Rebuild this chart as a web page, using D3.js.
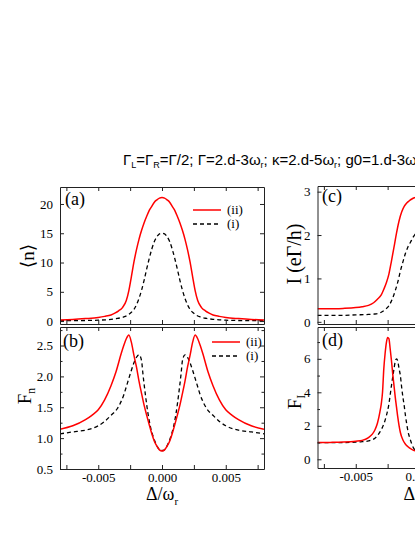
<!DOCTYPE html>
<html>
<head>
<meta charset="utf-8">
<script src="https://cdn.jsdelivr.net/npm/d3@7"></script>
<style>
  html, body { margin: 0; padding: 0; background: #fff; }
  svg { display: block; }
</style>
</head>
<body>
<div id="chart"></div>
<script>
// ---------------- DATA ----------------
// (a) <n> vs detuning
const aIIx = [-0.008,-0.007,-0.006,-0.005,-0.0045,-0.004,-0.0037,-0.0034,-0.0031,-0.0028,-0.0026,-0.0024,-0.0022,-0.002,-0.0018,-0.0016,-0.0014,-0.0012,-0.001,-0.0008,-0.0006,-0.0004,-0.0002,0,
              0.0002,0.0004,0.0006,0.0008,0.001,0.0012,0.0014,0.0016,0.0018,0.002,0.0022,0.0024,0.0026,0.0028,0.0031,0.0034,0.0037,0.004,0.0045,0.005,0.006,0.007,0.008];
const aIIy = [0.2,0.27,0.42,0.62,0.8,1.05,1.35,1.75,2.3,3.5,5.2,7.6,10.1,12.2,14.0,15.5,16.8,17.9,18.9,19.6,20.3,20.7,21.0,21.1,
              21.0,20.7,20.3,19.6,18.9,17.9,16.8,15.5,14.0,12.2,10.1,7.6,5.2,3.5,2.3,1.75,1.35,1.05,0.8,0.62,0.42,0.27,0.2];
const aIx  = [-0.008,-0.007,-0.006,-0.005,-0.004,-0.0035,-0.003,-0.0027,-0.0024,-0.0022,-0.002,-0.0018,-0.0016,-0.0014,-0.0012,-0.001,-0.0008,-0.0006,-0.0004,-0.0002,0,
              0.0002,0.0004,0.0006,0.0008,0.001,0.0012,0.0014,0.0016,0.0018,0.002,0.0022,0.0024,0.0027,0.003,0.0035,0.004,0.005,0.006,0.007,0.008];
const aIy  = [0.05,0.07,0.1,0.15,0.3,0.45,0.7,1.0,1.5,2.0,2.8,3.9,5.3,7.0,8.9,10.7,12.3,13.6,14.4,14.9,15.0,
              14.9,14.4,13.6,12.3,10.7,8.9,7.0,5.3,3.9,2.8,2.0,1.5,1.0,0.7,0.45,0.3,0.15,0.1,0.07,0.05];
// (b) F_n vs detuning
const bIIx = [-0.008,-0.007,-0.006,-0.0055,-0.005,-0.0045,-0.004,-0.0036,-0.0032,-0.003,-0.0028,-0.0026,-0.0024,-0.0022,-0.002,-0.0018,-0.0016,-0.0014,-0.0012,-0.001,-0.0008,-0.0006,-0.0004,-0.0002,0,
              0.0002,0.0004,0.0006,0.0008,0.001,0.0012,0.0014,0.0016,0.0018,0.002,0.0022,0.0024,0.0026,0.0028,0.003,0.0032,0.0036,0.004,0.0045,0.005,0.0055,0.006,0.007,0.008];
const bIIy = [1.145,1.2,1.3,1.37,1.46,1.62,1.85,2.08,2.37,2.5,2.61,2.67,2.55,2.34,2.15,1.92,1.72,1.53,1.37,1.215,1.07,0.95,0.87,0.81,0.79,
              0.81,0.87,0.95,1.07,1.215,1.37,1.53,1.72,1.92,2.15,2.34,2.55,2.67,2.61,2.5,2.37,2.08,1.85,1.62,1.46,1.37,1.3,1.2,1.145];
const bIx  = [-0.008,-0.007,-0.006,-0.005,-0.0045,-0.004,-0.0035,-0.003,-0.0027,-0.0024,-0.0022,-0.002,-0.0018,-0.0016,-0.0015,-0.0013,-0.0011,-0.0009,-0.0007,-0.0005,-0.0003,-0.0001,0,
              0.0001,0.0003,0.0005,0.0007,0.0009,0.0011,0.0013,0.0015,0.0016,0.0018,0.002,0.0022,0.0024,0.0027,0.003,0.0035,0.004,0.0045,0.005,0.006,0.007,0.008];
const bIy  = [1.07,1.1,1.13,1.2,1.27,1.37,1.48,1.7,1.9,2.1,2.22,2.31,2.35,2.25,2.05,1.7,1.4,1.18,1.03,0.92,0.84,0.8,0.8,
              0.8,0.84,0.92,1.03,1.18,1.4,1.7,2.05,2.25,2.35,2.31,2.22,2.1,1.9,1.7,1.48,1.37,1.27,1.2,1.13,1.1,1.07];
// (c) I vs detuning (visible part)
const cIIx = [-0.008,-0.007,-0.006,-0.005,-0.0045,-0.004,-0.0036,-0.0033,-0.003,-0.0028,-0.0026,-0.0024,-0.0022,-0.002,-0.0018,-0.0016,-0.0014,-0.0012,-0.001,-0.0008,-0.0006,-0.0004,-0.0002,0];
const cIIy = [0.3,0.3,0.31,0.33,0.35,0.38,0.44,0.52,0.62,0.75,0.9,1.1,1.4,1.72,2.05,2.33,2.53,2.66,2.74,2.79,2.83,2.86,2.88,2.89];
const cIx  = [-0.008,-0.006,-0.005,-0.004,-0.0035,-0.003,-0.0027,-0.0024,-0.0021,-0.0019,-0.0017,-0.0015,-0.0013,-0.0011,-0.0009,-0.0007,-0.0005,-0.0003,-0.0001,0];
const cIy  = [0.15,0.15,0.16,0.17,0.18,0.22,0.28,0.37,0.55,0.72,0.92,1.17,1.38,1.58,1.73,1.84,1.95,2.03,2.07,2.08];
// (d) F_I vs detuning (visible part)
const dIIx = [-0.008,-0.007,-0.006,-0.005,-0.0045,-0.004,-0.0037,-0.0035,-0.0033,-0.0031,-0.003,-0.0029,-0.0028,-0.0027,-0.0026,-0.0025,-0.0024,-0.0023,-0.0022,-0.0021,-0.002,-0.0019,-0.0018,-0.0017,-0.0016,-0.0015,-0.0013,-0.0011,-0.0009,-0.0007,-0.0005,-0.0003,0];
const dIIy = [1.0,1.01,1.03,1.08,1.13,1.3,1.5,1.75,2.15,2.85,3.3,4.0,5.4,6.3,6.95,7.27,7.2,6.6,5.9,5.1,4.4,3.7,3.1,2.5,2.0,1.6,1.15,0.9,0.75,0.63,0.55,0.5,0.47];
const dIx  = [-0.008,-0.006,-0.005,-0.0045,-0.004,-0.0035,-0.0031,-0.0028,-0.0026,-0.0024,-0.0022,-0.002,-0.0019,-0.0018,-0.0017,-0.0016,-0.0015,-0.0014,-0.0013,-0.0012,-0.0011,-0.001,-0.0009,-0.00075,-0.0006,-0.00045,-0.0003,0];
const dIy  = [1.0,1.0,1.02,1.05,1.1,1.25,1.64,2.1,2.6,3.3,4.4,5.4,5.85,6.0,5.85,5.4,5.0,4.3,3.7,3.2,2.6,2.1,1.65,1.25,0.9,0.65,0.5,0.4];

// tick values
const xTicks = [-0.0075,-0.005,-0.0025,0,0.0025,0.005,0.0075];
const xLabeled = [-0.005,0,0.005];
const aTicks = [0,5,10,15,20];
const bTicks = [0.5,1.0,1.5,2.0,2.5];
const bMinor = [0.75,1.25,1.75,2.25,2.75];
const cTicks = [0,1,2,3];
const dTicks = [0,2,4,6];
const dMinor = [1,3,5,7];
const legendLabels = ["(ii)","(i)"];
const panelLabels = ["(a)","(b)","(c)","(d)"];
const titleParts = [["Γ",0],["L",1],["=Γ",0],["R",1],["=Γ/2; Γ=2.d-3ω",0],["r",1],["; κ=2.d-5ω",0],["r",1],["; g0=1.d-3ω",0],["r",1]];

// ---------------- DRAWING ----------------
const W = 415, H = 537;
const SERIF = "'Liberation Serif','Times New Roman','DejaVu Serif',serif";
const SANS = "'Liberation Sans',Arial,sans-serif";
const RED = "#ff0000", BLK = "#000";

const svg = d3.select("#chart").append("svg").attr("width", W).attr("height", H)
  .attr("viewBox", `0 0 ${W} ${H}`);
svg.append("rect").attr("width", W).attr("height", H).attr("fill", "#fff");

function rich(sel, parts, subSize, subShift) {
  parts.forEach(([s, sub], i) => {
    const t = sel.append("tspan").text(s);
    if (sub) t.attr("font-size", subSize).attr("dy", subShift);
    else if (i > 0 && parts[i-1][1]) t.attr("dy", -subShift);
  });
}

// title
rich(svg.append("text").attr("x", 123).attr("y", 165).attr("font-family", SANS).attr("font-size", 15).attr("fill", "#000"),
     titleParts, 9, 3);

const xL = d3.scaleLinear([-0.008, 0.008], [60, 264]);
const xR = d3.scaleLinear([-0.008, 0.008], [317.5, 521.5]);

const panels = [
  { id:"a", x:xL, y:d3.scaleLinear([-0.5,22.9],[324,187]), ticks:aTicks, minor:[], fmt:d3.format("d"),
    series:[[aIIx,aIIy,RED,null],[aIx,aIy,BLK,"4,3"]], xlab:false, label:panelLabels[0], lab:[65,205],
    legend:[193,210,14] },
  { id:"b", x:xL, y:d3.scaleLinear([0.5,2.8],[469,327]), ticks:bTicks, minor:bMinor, fmt:d3.format(".1f"),
    series:[[bIIx,bIIy,RED,null],[bIx,bIy,BLK,"4,3"]], xlab:true, label:panelLabels[1], lab:[63,347],
    legend:[212,342,14] },
  { id:"c", x:xR, y:d3.scaleLinear([-0.05,3.13],[324,186]), ticks:cTicks, minor:[], fmt:d3.format("d"),
    series:[[cIIx,cIIy,RED,null],[cIx,cIy,BLK,"4,3"]], xlab:false, label:panelLabels[2], lab:[322,202] },
  { id:"d", x:xR, y:d3.scaleLinear([-0.52,7.9],[468,327]), ticks:dTicks, minor:dMinor, fmt:d3.format("d"),
    series:[[dIIx,dIIy,RED,null],[dIx,dIy,BLK,"4,3"]], xlab:true, label:panelLabels[3], lab:[322,346] }
];

const xfmt = v => xLabeled.some(l => Math.abs(l - v) < 1e-9) ? v.toFixed(3) : "";

panels.forEach(p => {
  const [x0, x1] = p.x.range();
  const [y0, y1] = p.y.range(); // y0 bottom, y1 top
  const g = svg.append("g");
  const clipId = "clip-" + p.id;
  svg.append("clipPath").attr("id", clipId).append("rect")
    .attr("x", x0).attr("y", y1).attr("width", x1 - x0).attr("height", y0 - y1);

  // curves
  const line = d3.line().x(d => p.x(d[0])).y(d => p.y(d[1])).curve(d3.curveMonotoneX);
  p.series.slice().reverse().forEach(([xs, ys, col, dash]) => {
    g.append("path").attr("clip-path", `url(#${clipId})`)
      .datum(xs.map((v, i) => [v, ys[i]]))
      .attr("d", line).attr("fill", "none").attr("stroke", col)
      .attr("stroke-width", dash ? 1.3 : 1.5)
      .attr("stroke-dasharray", dash);
  });

  // axes
  const styleAxis = (sel) => {
    sel.select(".domain").attr("stroke", "#222").attr("stroke-width", 1);
    sel.selectAll(".tick line").attr("stroke", "#222").attr("stroke-width", 1);
    sel.selectAll("text").attr("font-family", SERIF).attr("font-size", 13).attr("fill", "#000");
  };
  g.append("g").attr("transform", `translate(0,${y0})`)
    .call(d3.axisBottom(p.x).tickValues(xTicks).tickSize(-4).tickPadding(4).tickSizeOuter(0)
      .tickFormat(p.xlab ? xfmt : () => "")).call(styleAxis);
  g.append("g").attr("transform", `translate(0,${y1})`)
    .call(d3.axisTop(p.x).tickValues(xTicks).tickSize(-4).tickSizeOuter(0).tickFormat(() => "")).call(styleAxis);
  g.append("g").attr("transform", `translate(${x0},0)`)
    .call(d3.axisLeft(p.y).tickValues(p.ticks).tickSize(-4).tickPadding(7).tickSizeOuter(0).tickFormat(p.fmt)).call(styleAxis);
  g.append("g").attr("transform", `translate(${x1},0)`)
    .call(d3.axisRight(p.y).tickValues(p.ticks).tickSize(-4).tickSizeOuter(0).tickFormat(() => "")).call(styleAxis);
  if (p.minor.length) {
    g.append("g").attr("transform", `translate(${x0},0)`)
      .call(d3.axisLeft(p.y).tickValues(p.minor).tickSize(-2.5).tickSizeOuter(0).tickFormat(() => "")).call(styleAxis)
      .select(".domain").remove();
    g.append("g").attr("transform", `translate(${x1},0)`)
      .call(d3.axisRight(p.y).tickValues(p.minor).tickSize(-2.5).tickSizeOuter(0).tickFormat(() => "")).call(styleAxis)
      .select(".domain").remove();
  }

  // panel label
  g.append("text").attr("x", p.lab[0]).attr("y", p.lab[1]).attr("font-family", SERIF)
    .attr("font-size", 18).text(p.label);

  // legend
  if (p.legend) {
    const [lx, ly, dy] = p.legend;
    p.series.forEach(([xs, ys, col, dash], i) => {
      g.append("line").attr("x1", lx).attr("x2", lx + 28).attr("y1", ly + i*dy).attr("y2", ly + i*dy)
        .attr("stroke", col).attr("stroke-width", dash ? 1.3 : 1.5).attr("stroke-dasharray", dash);
      g.append("text").attr("x", lx + 34).attr("y", ly + i*dy + 4).attr("font-family", SERIF)
        .attr("font-size", 13).text(legendLabels[i]);
    });
  }
});

// axis titles
function ylab(x, y, parts, size) {
  const t = svg.append("text").attr("transform", `translate(${x},${y}) rotate(-90)`)
    .attr("text-anchor", "middle").attr("font-family", SERIF).attr("font-size", size);
  rich(t, parts, size * 0.62, 4);
}
ylab(34, 256, [["⟨n⟩",0]], 19);
ylab(31, 396, [["F",0],["n",1]], 19);
ylab(301, 254, [["I (eΓ/h)",0]], 20);
ylab(301, 402, [["F",0],["I",1]], 19);

function xlab(cx, y) {
  const t = svg.append("text").attr("x", cx).attr("y", y).attr("text-anchor", "middle")
    .attr("font-family", SERIF).attr("font-size", 18);
  rich(t, [["Δ/ω",0],["r",1]], 11, 5);
}
xlab(162, 500);
xlab(419.5, 500);
</script>
</body>
</html>
